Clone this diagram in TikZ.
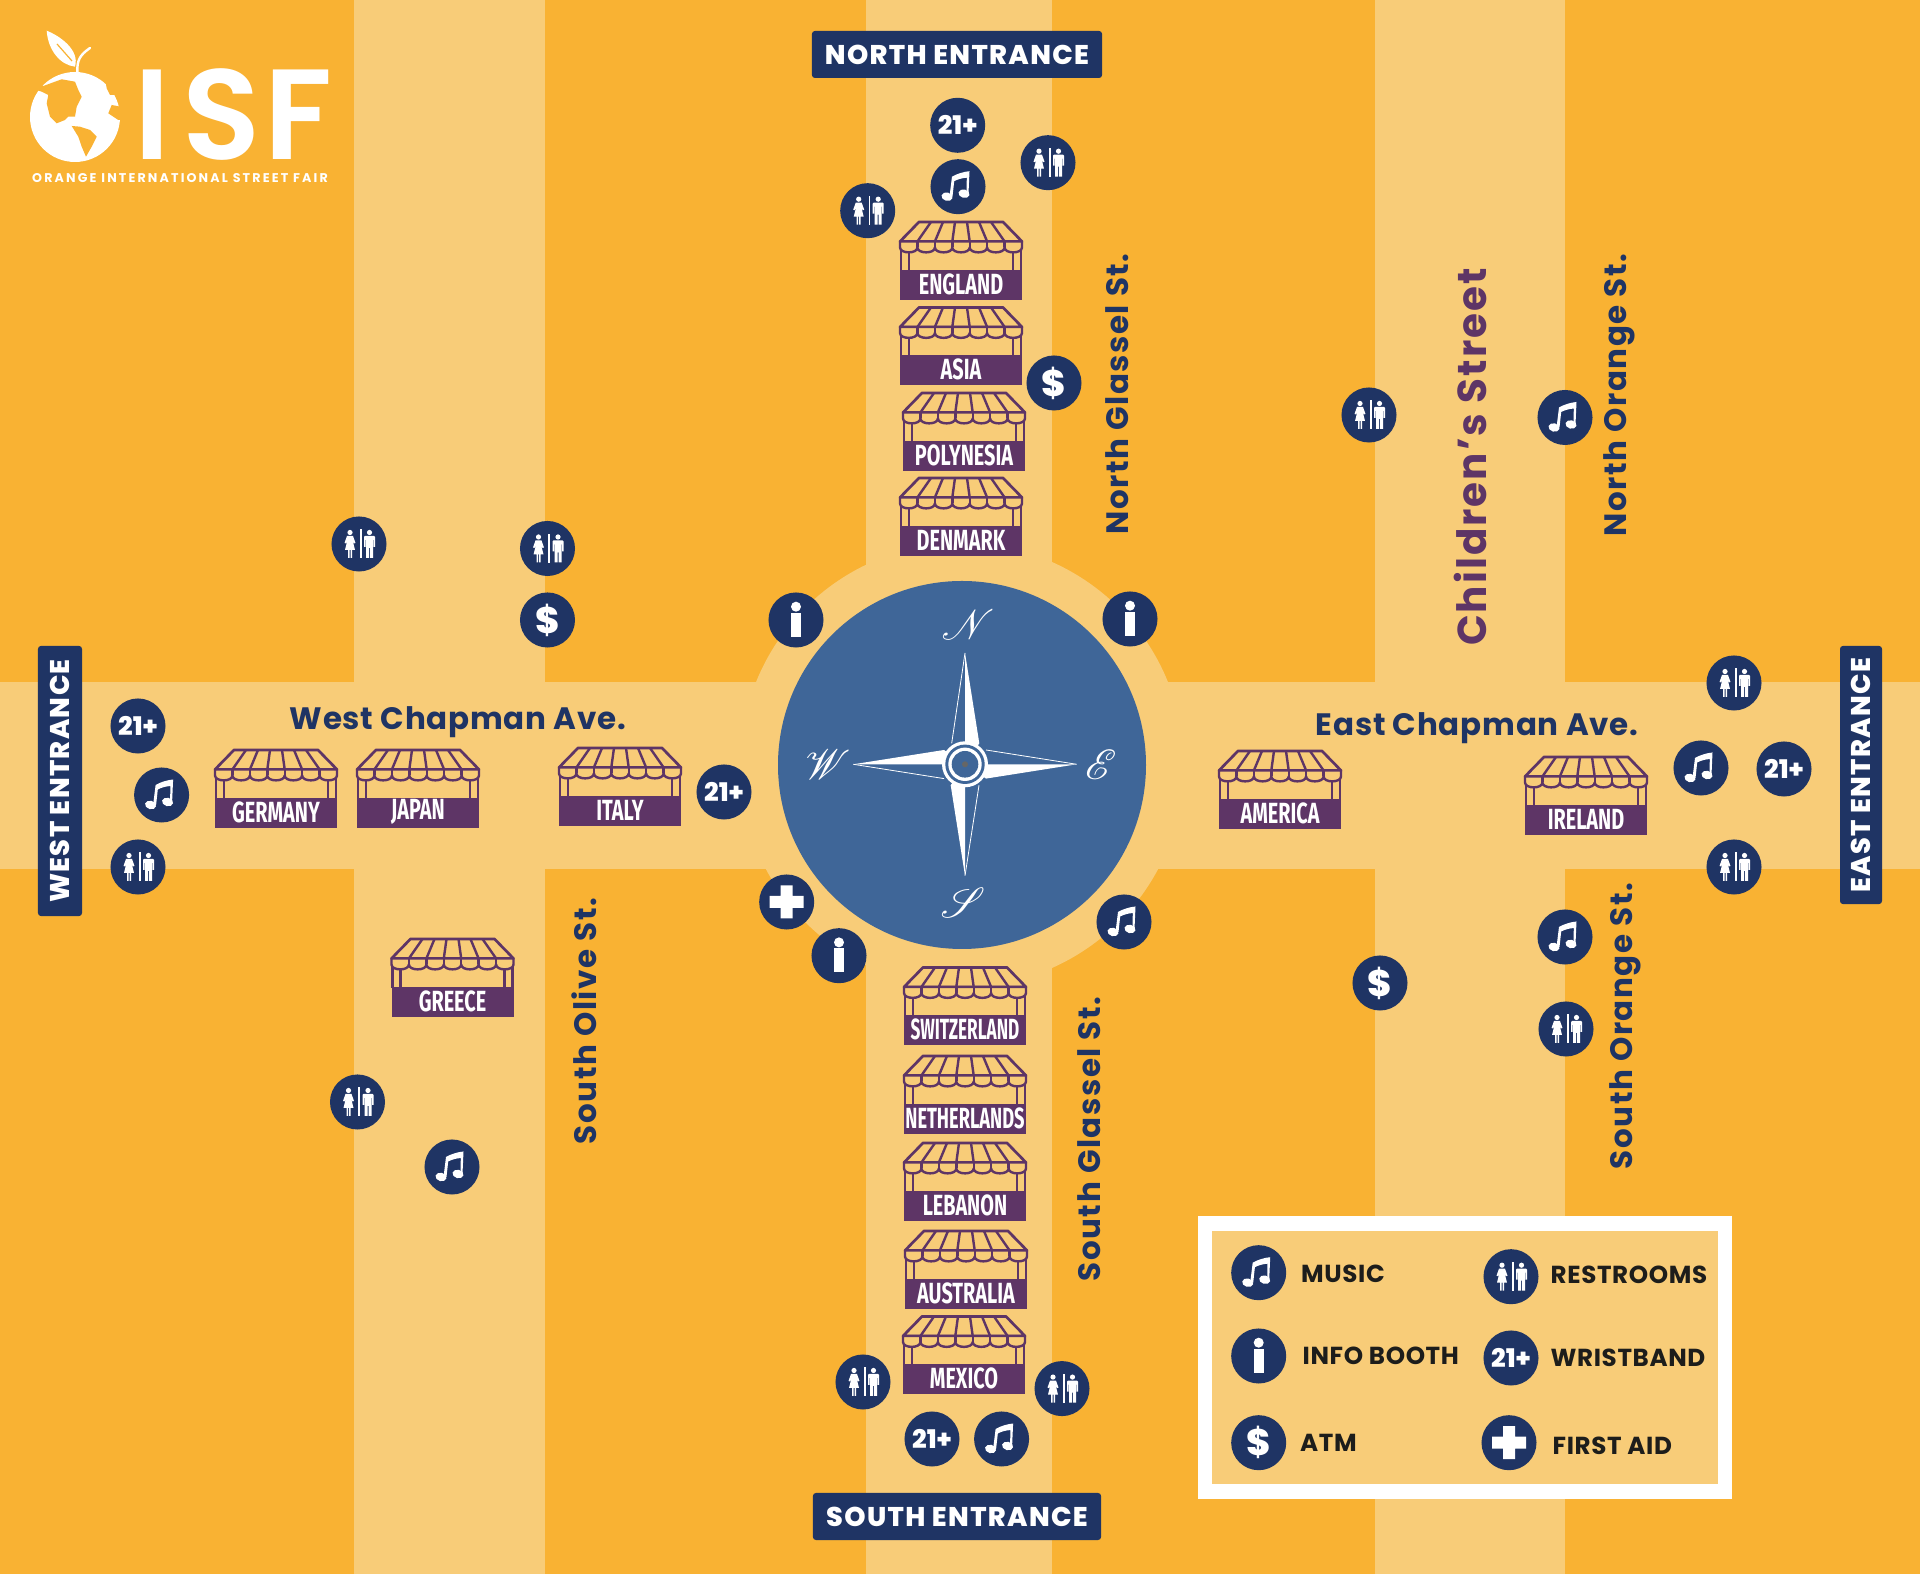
\documentclass[tikz,border=0pt]{standalone}
\usepackage{fontspec}
\usepackage{mathrsfs}
\setmainfont{Poppins}
\newfontfamily\stallfont[FakeStretch=0.68]{Fira Sans}
\newfontfamily\heavyfont{Poppins ExtraBold}
\newcommand{\fsize}[1]{\fontsize{#1}{#1}\selectfont}
\definecolor{orangebg}{HTML}{F9B233}
\definecolor{roadc}{HTML}{F8CC78}
\definecolor{navy}{HTML}{1F3464}
\definecolor{compassc}{HTML}{3F6698}
\definecolor{stallc}{HTML}{5E3566}
\definecolor{legendtxt}{HTML}{1D1D1B}
\tikzset{
  iconbase/.style={circle,fill=navy,inner sep=0pt,minimum size=0.55cm},
  icontxt/.style={text=white,font=\heavyfont\fsize{7.3},inner sep=0pt},
  gateway/.style={fill=navy,rounded corners=0.03cm,text=white,inner sep=0pt,font=\heavyfont\fsize{7.7}\addfontfeature{LetterSpace=5}},
  streetname/.style={text=navy,inner sep=0pt,font=\bfseries\fsize{8.8}\addfontfeature{LetterSpace=5}},
  avename/.style={text=navy,inner sep=0pt,font=\bfseries\fsize{8.8}\addfontfeature{LetterSpace=2.5}},
  legendname/.style={text=legendtxt,inner sep=0pt,anchor=west,font=\bfseries\fsize{7}\addfontfeature{LetterSpace=2.5}},
  compassname/.style={text=white,inner sep=0pt,font=\fsize{13}},
  music/.pic={
    \node[iconbase] (disc) at (0,0) {};
    \fill[white,rotate around={-15:(-11,10)}] (-11,10) ellipse (5.6 and 4.2);
    \fill[white,rotate around={-15:(6,7)}] (6,7) ellipse (5.6 and 4.2);
    \fill[white] (-8.5,10) -- (-6,-10) .. controls (-1,-13) and (6,-15) .. (11.5,-15.5) -- (10.5,7) -- (8.5,7) -- (8.8,-9) .. controls (3,-8.5) and (-1,-7) .. (-3.8,-5.5) -- (-5.5,10) -- cycle;
  },
  restroom/.pic={
    \node[iconbase] (disc) at (0,0) {};
    \fill[white] (-9,-11.5) circle (2.6);
    \fill[white] (-12,-8) -- (-6,-8) -- (-3.5,-1) -- (-5,-0.5) -- (-6.5,-4) -- (-4,6) -- (-7,6) -- (-7,14) -- (-8.5,14) -- (-8.5,6) -- (-9.5,6) -- (-9.5,14) -- (-11,14) -- (-11,6) -- (-14,6) -- (-11.5,-4) -- (-13,-0.5) -- (-14.5,-1) -- cycle;
    \fill[white] (0.8,-14.5) rectangle (2.6,14.5);
    \fill[white] (10.5,-11.5) circle (2.6);
    \fill[white] (6,-8) -- (15,-8) -- (16,-7) -- (16,3) -- (14.5,3) -- (14.5,-4) -- (14,-4) -- (14,14) -- (11,14) -- (11,4) -- (10,4) -- (10,14) -- (7,14) -- (7,-4) -- (6.5,-4) -- (6.5,3) -- (5,3) -- (5,-7) -- cycle;
  },
  infobooth/.pic={
    \node[iconbase] (disc) at (0,0) {};
    \fill[white] (0,-13.3) circle (5);
    \fill[white] (-5,-7.3) rectangle (5,16.7);
  },
  firstaid/.pic={
    \node[iconbase] (disc) at (0,0) {};
    \fill[white] (-6,-16.5) -- (6,-16.5) -- (6,-6) -- (17,-6) -- (17,6) -- (6,6) -- (6,16.5) -- (-6,16.5) -- (-6,6) -- (-17,6) -- (-17,-6) -- (-6,-6) -- cycle;
  },
  wristband/.pic={
    \node[iconbase] (disc) at (0,0) {};
    \node[icontxt] (tag) at (0,0) {21+};
  },
  atm/.pic={
    \node[iconbase] (disc) at (0,0) {};
    \node[icontxt,font=\heavyfont\fsize{10.5}] (tag) at (0,0) {\$};
  },
  stall/.pic={
    \filldraw[stallc,fill=roadc,line width=0.027cm,line join=round] (-61,-19.5) -- (-42,-39) -- (42,-39) -- (61,-19.5) -- cycle;
    \draw[stallc,line width=0.024cm] (-30,-39) -- (-43.6,-19.5) (-18,-39) -- (-26.1,-19.5) (-6,-39) -- (-8.7,-19.5) (6,-39) -- (8.7,-19.5) (18,-39) -- (26.1,-19.5) (30,-39) -- (43.6,-19.5);
    \draw[stallc,line width=0.024cm] (-60,-19.5) -- (-60,10) (-52,-9) -- (-52,10) (52,-9) -- (52,10) (60,-19.5) -- (60,10);
    \filldraw[stallc,fill=roadc,line width=0.024cm,line join=round] (-61,-19.5) -- (-61,-13.5) .. controls (-61,-7) and (-43.6,-7) .. (-43.6,-13.5) .. controls (-43.6,-7) and (-26.1,-7) .. (-26.1,-13.5) .. controls (-26.1,-7) and (-8.7,-7) .. (-8.7,-13.5) .. controls (-8.7,-7) and (8.7,-7) .. (8.7,-13.5) .. controls (8.7,-7) and (26.1,-7) .. (26.1,-13.5) .. controls (26.1,-7) and (43.6,-7) .. (43.6,-13.5) .. controls (43.6,-7) and (61,-7) .. (61,-13.5) -- (61,-19.5) -- cycle;
    \draw[stallc,line width=0.024cm] (-43.6,-19.5) -- (-43.6,-13.5) (-26.1,-19.5) -- (-26.1,-13.5) (-8.7,-19.5) -- (-8.7,-13.5) (8.7,-19.5) -- (8.7,-13.5) (26.1,-19.5) -- (26.1,-13.5) (43.6,-19.5) -- (43.6,-13.5);
    \fill[stallc] (-61,9) rectangle (61,39);
    \node[text=white,inner sep=0pt,font=\stallfont\bfseries\fsize{8.3}] (name) at (0,23) {#1};
  },
}
\begin{document}
\begin{tikzpicture}[x=0.01cm,y=-0.01cm]
\path[use as bounding box] (0,0) rectangle (1920,1574);

% ground and streets
\fill[orangebg] (0,0) rectangle (1920,1574);
\fill[roadc] (354,0) rectangle (545,1574);
\fill[roadc] (866,0) rectangle (1052,1574);
\fill[roadc] (1375,0) rectangle (1565,1574);
\fill[roadc] (0,682) rectangle (1920,869);
\fill[roadc] (962,765) circle (222);

% logo
\fill[white] (75,117) circle (45);
\fill[orangebg] (43.3,86) -- (61.7,79.3) -- (75,81.7) -- (78.3,90) -- (81.7,96.7) -- (76.7,106.7) -- (75,116.7) -- (68.3,116.7) -- (65,120) -- (56.7,123.3) -- (50,116.7) -- (46.7,103.3) -- (48.3,95) -- (41.7,91.7) -- (36.7,90) -- (33.3,80) -- cycle;
\fill[orangebg] (71.7,126) -- (80,126.7) -- (90,130) -- (96.7,136.7) -- (91.7,146.7) -- (86,156.7) -- (81.7,146.7) -- (78.3,136.7) -- cycle;
\fill[orangebg] (105,78.3) -- (106.7,88.3) -- (110,95) -- (115,95) -- (120.7,106.7) -- (111.7,105) -- (108.3,113.3) -- (118.3,120) -- (126.7,120) -- (126.7,78.3) -- cycle;
\fill[white] (46.7,30.7) .. controls (60,36) and (80,50) .. (75,66.7) .. controls (60,65) and (48,50) .. (46.7,30.7) -- cycle;
\draw[orangebg,line width=0.012cm] (57,44) -- (72,61);
\draw[white,line width=0.024cm,line cap=round] (77.3,72) .. controls (77,60) and (80,55) .. (90,48);
\node[text=white,inner sep=0pt,font=\fontspec{Poppins SemiBold}\fsize{36.5}] (isf) at (233.4,115) {I\hspace{0.1em}S\hspace{0.025em}F};
\node[text=white,inner sep=0pt,font=\bfseries\fsize{3.6}] (fairname) at (180,178) {\addfontfeature{LetterSpace=17}ORANGE INTERNATIONAL STREET FAIR};

% entrances
\node[gateway,minimum width=2.9cm,minimum height=0.47cm] (northgate) at (957,54.5) {NORTH ENTRANCE};
\node[gateway,minimum width=2.88cm,minimum height=0.47cm] (southgate) at (957,1516.5) {SOUTH ENTRANCE};
\node[gateway,rotate=90,minimum width=2.7cm,minimum height=0.44cm] (westgate) at (60,781) {WEST ENTRANCE};
\node[gateway,rotate=90,minimum width=2.58cm,minimum height=0.42cm] (eastgate) at (1861,775) {EAST ENTRANCE};

% street names
\node[streetname,rotate=90] (nglassel) at (1117,394) {North Glassel St.};
\node[streetname,rotate=90] (sglassel) at (1089,1139) {South Glassel St.};
\node[streetname,rotate=90] (norange) at (1619,395) {North Orange St.};
\node[streetname,rotate=90] (sorange) at (1625,1026) {South Orange St.};
\node[streetname,rotate=90] (solive) at (584,1021) {South Olive St.};
\node[streetname,rotate=90,text=stallc,font=\bfseries\fsize{11.5}\addfontfeature{LetterSpace=5}] (children) at (1470.6,457) {Children’s Street};
\node[avename] (wchapman) at (458,722) {West Chapman Ave.};
\node[avename] (echapman) at (1477,728) {East Chapman Ave.};

% compass
\fill[compassc] (962,765) circle (184);
\fill[white] (965,653) -- (979.3,743.3) -- (965,764.3) -- cycle;
\fill[white] (1076.7,764.3) -- (986,778.6) -- (965,764.3) -- cycle;
\fill[white] (965,875.7) -- (950.7,785.3) -- (965,764.3) -- cycle;
\fill[white] (853.3,764.3) -- (944,750) -- (965,764.3) -- cycle;
\draw[white,line width=0.008cm] (965,653) -- (951.7,743.3);
\draw[white,line width=0.008cm] (1076.7,764.3) -- (986,750);
\draw[white,line width=0.008cm] (965,875.7) -- (979,785.3);
\draw[white,line width=0.008cm] (853.3,764.3) -- (944,778.6);
\fill[white] (965,764.3) circle (23);
\fill[compassc] (965,764.3) circle (19.7);
\fill[white] (965,764.3) circle (16.7);
\fill[compassc] (965,764.3) circle (13.3);
\fill[black!60] (965,764.3) circle (3);
\node[compassname] (north) at (968,625) {$\mathscr{N}$};
\node[compassname] (south) at (963,903) {$\mathscr{S}$};
\node[compassname] (east) at (1101,765) {$\mathscr{E}$};
\node[compassname] (west) at (828,765) {$\mathscr{W}$};

% stalls
\pic (england) at (961,261) {stall=ENGLAND};
\pic (asia) at (961,346.5) {stall=ASIA};
\pic (polynesia) at (964,432) {stall=POLYNESIA};
\pic (denmark) at (961,517) {stall=DENMARK};
\pic (switzerland) at (965,1006.5) {stall={\scalebox{0.865}[1]{SWITZERLAND}}};
\pic (netherlands) at (965,1095) {stall={\scalebox{0.92}[1]{NETHERLANDS}}};
\pic (lebanon) at (965,1182) {stall=LEBANON};
\pic (australia) at (966,1270) {stall=AUSTRALIA};
\pic (mexico) at (964,1355.5) {stall=MEXICO};
\pic (germany) at (276,789) {stall=GERMANY};
\pic (japan) at (418,789) {stall=JAPAN};
\pic (italy) at (620,787) {stall=ITALY};
\pic (greece) at (452.5,978) {stall=GREECE};
\pic (america) at (1280,790) {stall=AMERICA};
\pic (ireland) at (1586,796) {stall=IRELAND};

% north end
\pic (band1) at (957.7,125.3) {wristband};
\pic (wc1) at (1048,162.7) {restroom};
\pic (mus1) at (958,186.7) {music};
\pic (wc2) at (867.7,210.7) {restroom};
\pic (atm1) at (1054,383) {atm};
\pic (wc3) at (1369,415) {restroom};
\pic (mus2) at (1565,417.5) {music};

% west side
\pic (wc4) at (359,544) {restroom};
\pic (wc5) at (547.5,548.5) {restroom};
\pic (atm2) at (547.5,620) {atm};
\pic (band2) at (138,726) {wristband};
\pic (mus3) at (161.6,795) {music};
\pic (wc6) at (138,867) {restroom};
\pic (band3) at (724,792) {wristband};
\pic (wc7) at (357.5,1102) {restroom};
\pic (mus4) at (452,1167) {music};

% round the compass
\pic (info1) at (796,620) {infobooth};
\pic (info2) at (1130,619) {infobooth};
\pic (aid1) at (786.7,902) {firstaid};
\pic (info3) at (839,955.7) {infobooth};
\pic (mus5) at (1124,922) {music};

% east side
\pic (wc8) at (1734,683) {restroom};
\pic (mus6) at (1701,768) {music};
\pic (band4) at (1784,769) {wristband};
\pic (wc9) at (1734,867) {restroom};
\pic (atm3) at (1380,983) {atm};
\pic (mus7) at (1565,937) {music};
\pic (wc10) at (1566,1029) {restroom};

% south end
\pic (wc11) at (863,1382) {restroom};
\pic (wc12) at (1062,1388.6) {restroom};
\pic (band5) at (932,1439) {wristband};
\pic (mus8) at (1001.6,1439) {music};

% legend
\fill[white] (1197.7,1216) rectangle (1732,1498.7);
\fill[roadc] (1212,1230.7) rectangle (1717.5,1484);
\pic (keymus) at (1258.7,1272.7) {music};
\pic (keyinfo) at (1258.7,1356) {infobooth};
\pic (keyatm) at (1258.7,1442.7) {atm};
\pic (keywc) at (1511,1276.7) {restroom};
\pic (keyband) at (1511,1358) {wristband};
\pic (keyaid) at (1509,1442.7) {firstaid};
\node[legendname] (keymustxt) at (1300.5,1273.5) {MUSIC};
\node[legendname] (keyinfotxt) at (1302,1356) {INFO BOOTH};
\node[legendname] (keyatmtxt) at (1299.4,1442.7) {ATM};
\node[legendname] (keywctxt) at (1550,1275) {RESTROOMS};
\node[legendname] (keybandtxt) at (1550,1358) {WRISTBAND};
\node[legendname] (keyaidtxt) at (1552,1446) {FIRST AID};
\end{tikzpicture}
\end{document}
